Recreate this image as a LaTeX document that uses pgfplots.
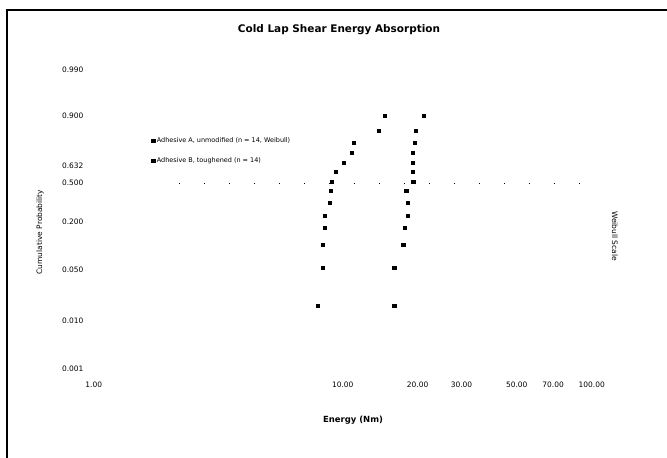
\documentclass[border=0pt]{standalone}
\usepackage{pgfplots}
\pgfplotsset{compat=1.18}
\usepackage{fontspec}
\setmainfont{DejaVu Sans}
\begin{document}
\begin{tikzpicture}[x=1bp,y=1bp]
\path[use as bounding box] (0,0) rectangle (667,458);
\draw[line width=2bp] (7,0) -- (7,448) -- (667,448);
\begin{axis}[
  at={(87bp,80bp)}, anchor=south west,
  scale only axis, width=512bp, height=318bp,
  xmode=log, xmin=0.94, xmax=107,
  ymin=-3.9, ymax=2.46,
  axis line style={draw=none},
  major tick length=0pt, minor tick length=0pt,
  xtick={1,10,20,30,50,70,100},
  xticklabels={1.00,10.00,20.00,30.00,50.00,70.00,100.00},
  ytick={2.26,1.34,0.34,0,-0.78,-1.74,-2.76,-3.72},
  yticklabels={0.990,0.900,0.632,0.500,0.200,0.050,0.010,0.001},
  tick label style={font=\fontsize{7.5}{8}\selectfont},
  /pgf/number format/assume math mode=true,
  legend style={at={(0.12,0.77)}, anchor=north west, draw=none, fill=none,
    font=\fontsize{6.5}{7}\selectfont, row sep=10pt},
  legend cell align=left,
  clip=false,
]
\addplot[only marks, mark=square*, mark size=1.6bp, black] coordinates {
(14.7,1.34) (13.9,1.04) (11.1,0.80) (10.9,0.60) (10.1,0.40) (9.38,0.22) (9.04,0.02)
(8.95,-0.16) (8.87,-0.40) (8.47,-0.66) (8.47,-0.90) (8.32,-1.24) (8.32,-1.70) (7.94,-2.46)};
\addlegendentry{Adhesive A, unmodified (n = 14, Weibull)}
\addplot[only marks, mark=square*, mark size=1.6bp, black] coordinates {
(21.1,1.34) (19.6,1.04) (19.4,0.80) (19.05,0.60) (19.05,0.40) (19.05,0.22) (19.2,0.02)
(18.0,-0.16) (18.2,-0.40) (18.2,-0.66) (17.7,-0.90) (17.5,-1.24) (16.1,-1.70) (16.1,-2.46)};
\addlegendentry{Adhesive B, toughened (n = 14)}
\addplot[black, line width=0.8bp, dash pattern=on 1bp off 24bp, forget plot] coordinates {(2.2,0) (95,0)};
\end{axis}
\node[font=\bfseries\fontsize{10.5}{12}\selectfont] at (339,428) {Cold Lap Shear Energy Absorption};
\node[font=\bfseries\fontsize{8.5}{10}\selectfont] at (353,38) {Energy (Nm)};
\node[font=\fontsize{7.5}{8}\selectfont, rotate=90] at (40,226) {Cumulative Probability};
\node[font=\fontsize{7.5}{8}\selectfont, rotate=-90] at (615,222) {Weibull Scale};
\end{tikzpicture}
\end{document}
